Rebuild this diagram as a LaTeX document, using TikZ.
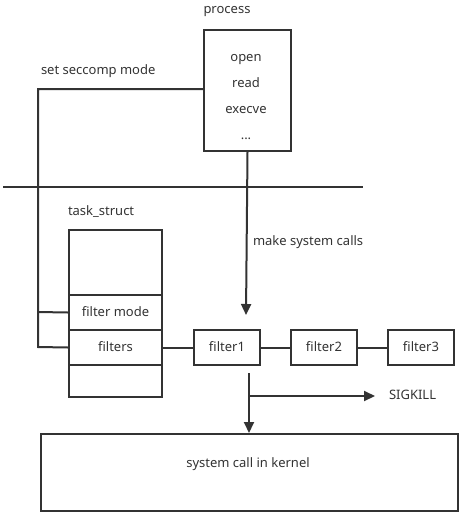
\documentclass[tikz,border=0pt]{standalone}
\usepackage{fontspec}
\setmainfont{Noto Sans}
\usetikzlibrary{arrows.meta}
\definecolor{ink}{HTML}{333333}
\begin{document}
\begin{tikzpicture}[x=1pt,y=-1pt,
  line width=2pt, draw=ink,
  box/.style={draw=ink, line width=2pt, inner sep=0pt, anchor=north west},
  txt/.style={text=ink, font=\fontsize{13}{15}\selectfont, inner sep=0pt, text height=9.5pt, text depth=2.5pt},
  arr/.style={-{Triangle[length=11pt,width=10pt]}}]
\useasboundingbox (0,0) rectangle (463,517);
% process
\node[txt] (proclab) at (227,10) {process};
\node[box, minimum width=87pt, minimum height=121pt] (proc) at (203,29) {};
\node[txt] (t1) at (246,58) {open};
\node[txt] (t2) at (246,84) {read};
\node[txt] (t3) at (246,110) {execve};
\node[txt] (t4) at (246,136) {...};
\node[txt, anchor=west] (seclab) at (40,71) {set seccomp mode};
% separator
\coordinate (sepL) at (3,187);
\coordinate (sepR) at (363,187);
\draw[ink] (sepL) -- (sepR);
% task struct
\node[txt, anchor=west] (tslab) at (67,212) {task\_struct};
\node[box, minimum width=93pt, minimum height=65pt] (tstop) at (68,229) {};
\node[box, minimum width=93pt, minimum height=35pt] (fmode) at (68,294) {};
\node[txt] at (fmode.center) {filter mode};
\node[box, minimum width=93pt, minimum height=35pt] (filters) at (68,329) {};
\node[txt] at (filters.center) {filters};
\node[box, minimum width=93pt, minimum height=32pt] (tsbot) at (68,364) {};
% filters chain
\node[box, minimum width=66pt, minimum height=35pt] (f1) at (193,329) {};
\node[txt] at (f1.center) {filter1};
\node[box, minimum width=66pt, minimum height=35pt] (f2) at (290,329) {};
\node[txt] at (f2.center) {filter2};
\node[box, minimum width=66pt, minimum height=35pt] (f3) at (387,329) {};
\node[txt] at (f3.center) {filter3};
\draw[ink] (filters.east) -- (f1.west);
\draw[ink] (f1.east) -- (f2.west);
\draw[ink] (f2.east) -- (f3.west);
% set seccomp mode line
\coordinate (c1) at (38,89);
\coordinate (c2) at (38,347);
\coordinate (c3) at (38,312);
\draw[ink] (proc.west |- c1) -- (c1) -- (c2) -- (filters.west);
\draw[ink] (c3) -- (fmode.west);
% make system calls
\coordinate (callend) at (246,315);
\draw[ink, arr] (proc.south) -- (callend);
\node[txt, anchor=west] (mklab) at (252,242) {make system calls};
% kernel
\node[box, minimum width=417pt, minimum height=77pt] (kern) at (40,433) {};
\node[txt] (kerntxt) at (248,464) {system call in kernel};
\coordinate (down0) at (249,373);
\coordinate (branch) at (249,396);
\coordinate (killend) at (375,396);
\node[txt, anchor=west] (kill) at (388,396) {SIGKILL};
\draw[ink, arr] (down0) -- (down0 |- kern.north);
\draw[ink, arr] (branch) -- (killend);
\end{tikzpicture}
\end{document}
